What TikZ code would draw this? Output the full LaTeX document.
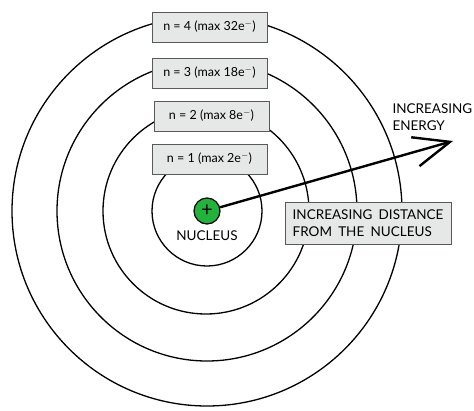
\documentclass[tikz,border=0pt]{standalone}
\usepackage{fontspec}
\setmainfont{Lato}
\newfontfamily\capfont[WordSpace=1.8]{Lato}
\usepackage{xcolor}
\usetikzlibrary{positioning, arrows.meta}

\definecolor{boxgray}{HTML}{E6E8E8}
\definecolor{nucgreen}{HTML}{22B33A}

\begin{document}
\begin{tikzpicture}[
    x=1pt, y=-1pt,
    shell/.style={draw, line width=1.3pt},
    shellbox/.style={draw=black!65, fill=boxgray, line width=0.9pt, minimum width=115pt, minimum height=30pt, inner sep=0pt, font=\fontsize{12.5}{14}\selectfont},
    caption/.style={font=\capfont\fontsize{13.5}{17.5}\selectfont, align=left},
    arr/.style={-{Straight Barb[length=36pt, width=30pt]}, line width=2.4pt}
]
    \useasboundingbox (0,0) rectangle (474,410);

    % shells
    \draw[shell] (207,211) circle[radius=195];
    \draw[shell] (207,211) circle[radius=150];
    \draw[shell] (206,211) circle[radius=103];
    \draw[shell] (207,211) circle[radius=55];

    % shell labels
    \node[shellbox] (nfour) at (209.5,27) {n = 4 (max 32e$^-$)};
    \node[shellbox] (nthree) at (209.5,73) {n = 3 (max 18e$^-$)};
    \node[shellbox] (ntwo) at (211.5,116) {n = 2 (max 8e$^-$)};
    \node[shellbox] (none) at (209.5,159) {n = 1 (max 2e$^-$)};

    % nucleus
    \node[circle, draw, fill=nucgreen, line width=1.2pt, minimum size=26pt, inner sep=0pt, font=\fontsize{20}{20}\selectfont] (nucleus) at (207,211) {+};
    \node[caption, below=3pt of nucleus] (nuclabel) {NUCLEUS};

    % distance box and energy arrow
    \node[shellbox, caption, minimum width=166pt, minimum height=42pt, inner xsep=7pt] (distance) at (368,223) {INCREASING DISTANCE\\FROM THE NUCLEUS};
    \node[caption, anchor=west] (energy) at (389,117) {INCREASING\\ENERGY};
    \coordinate (tip) at (453,141);
    \draw[arr] (nucleus) -- (tip);
\end{tikzpicture}
\end{document}
